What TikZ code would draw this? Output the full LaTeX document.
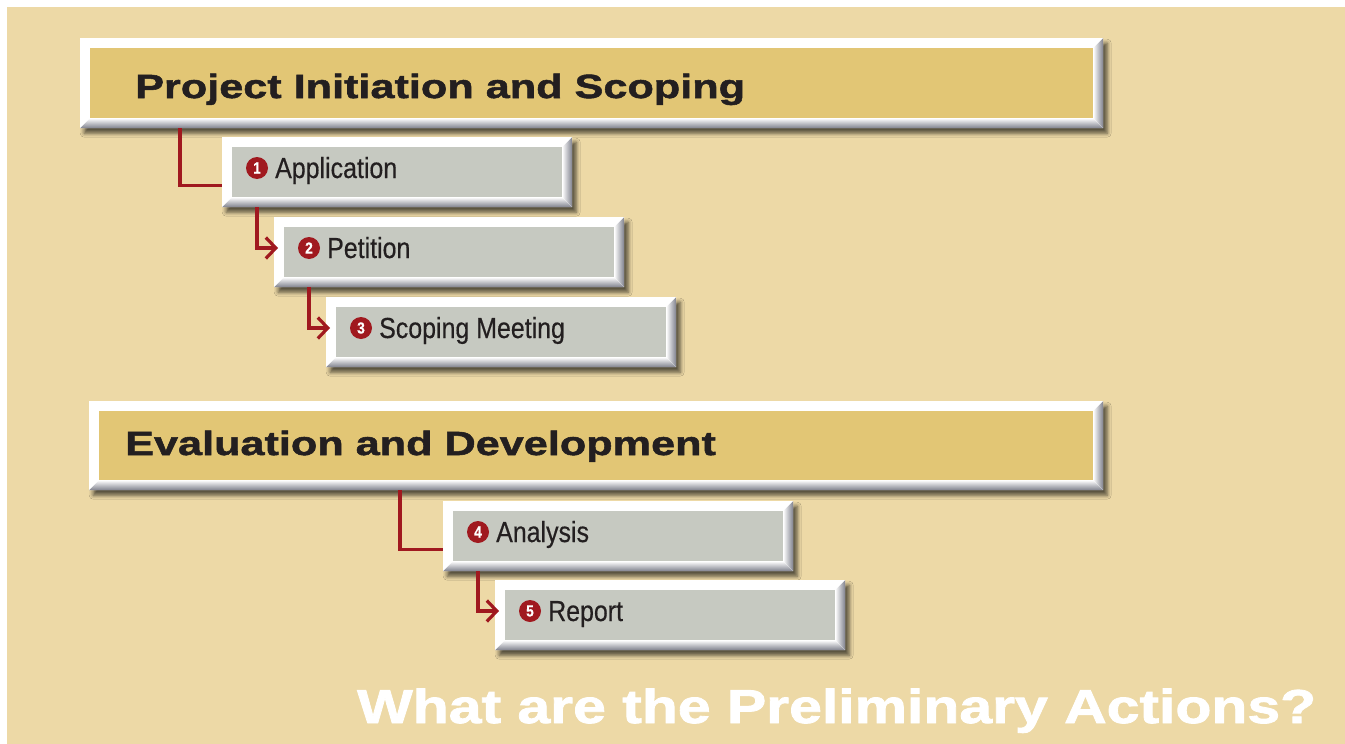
\documentclass[tikz,border=0pt]{standalone}
\usepackage{fontspec}
\setmainfont{Liberation Sans}
\newfontfamily\headfont[FakeStretch=1.29,FakeBold=1.6]{Liberation Sans}
\newfontfamily\itemfont[FakeStretch=0.86,FakeBold=0.4]{Liberation Sans}
\newfontfamily\titlefont[FakeStretch=1.24,FakeBold=1.8]{Liberation Sans}
\usetikzlibrary{calc,positioning,shadows.blur,arrows.meta}

\definecolor{bgbeige}{HTML}{EDD9A6}
\definecolor{headgold}{HTML}{E2C675}
\definecolor{itemgray}{HTML}{C6C9C1}
\definecolor{linkred}{HTML}{A0191F}
\definecolor{inkdark}{HTML}{231F20}
\definecolor{bevelgray}{HTML}{7E808C}

\tikzset{
  bevelbox/.style={fill=white, inner sep=0pt, anchor=north west,
    blur shadow={shadow xshift=4pt, shadow yshift=-5pt, shadow blur radius=4pt, shadow opacity=65},
    path picture={
      \path (path picture bounding box.south west) coordinate (bsw)
            (path picture bounding box.south east) coordinate (bse)
            (path picture bounding box.north east) coordinate (bne)
            (path picture bounding box.north west) coordinate (bnw);
      \fill[#1] ($(bnw)+(10,10)$) rectangle ($(bse)+(-10,-10)$);
      \fill[top color=white, middle color=white!80!bevelgray, bottom color=bevelgray]
        (bsw) -- ($(bsw)+(10,-10)$) -- ($(bse)+(-10,-10)$) -- (bse) -- cycle;
      \fill[left color=white, middle color=white!80!bevelgray, right color=bevelgray]
        (bne) -- ($(bne)+(-10,10)$) -- ($(bse)+(-10,-10)$) -- (bse) -- cycle;
    }},
  numdot/.style={circle, fill=linkred, text=white, inner sep=0pt, minimum size=22,
    font=\itemfont\bfseries\fontsize{16}{16}\selectfont},
  itemtext/.style={anchor=base west, inner sep=0pt, text=inkdark,
    font=\itemfont\fontsize{29}{34}\selectfont},
  headtext/.style={anchor=base west, inner sep=0pt, text=inkdark,
    font=\headfont\bfseries\fontsize{33.5}{40}\selectfont},
  link/.style={draw=linkred, line width=3.2pt}
}

\begin{document}
\begin{tikzpicture}[x=1pt,y=-1pt]
  \useasboundingbox (0,0) rectangle (1345,744);
  \fill[white] (0,0) rectangle (1345,744);
  \fill[bgbeige] (7,7) rectangle (1345,744);

  % phase headers
  \node[bevelbox=headgold, minimum width=1023, minimum height=90] (proj) at (80,38) {};
  \node[headtext] (proj-t) at (135,98) {Project Initiation and Scoping};
  \node[bevelbox=headgold, minimum width=1014, minimum height=89] (eval) at (89,401) {};
  \node[headtext] (eval-t) at (125,455) {Evaluation and Development};

  % steps
  \foreach \name/\x/\y/\num/\txt in {app/222/137/1/Application, pet/274/217/2/Petition,
      scop/326/297/3/Scoping Meeting, ana/443/501/4/Analysis, rep/495/580/5/Report}
  {
    \node[bevelbox=itemgray, minimum width=350, minimum height=70] (\name) at (\x,\y) {};
    \node[numdot] (\name-n) at ($(\name.north west)+(35,31)$) {\num};
    \node[itemtext] (\name-t) at ($(\name.north west)+(53,41)$) {\txt};
  }

  \draw[link] ($(proj.south west)+(100,0)$) |- ($(app.south west)+(0,-22)$);
  \draw[link] ($(eval.south west)+(311,0)$) |- ($(ana.south west)+(0,-22)$);
  \foreach \a/\b in {app/pet,pet/scop,ana/rep}
    \draw[link,-{Straight Barb[length=10pt,width=21pt]}] ($(\a.south west)+(35,0)$) |- ($(\b.north west)+(4,31)$);

  \node[anchor=base west, inner sep=0pt, text=white,
    font=\titlefont\bfseries\fontsize{47.5}{56}\selectfont] (title) at (357,723)
    {What are the Preliminary Actions?};
\end{tikzpicture}
\end{document}
